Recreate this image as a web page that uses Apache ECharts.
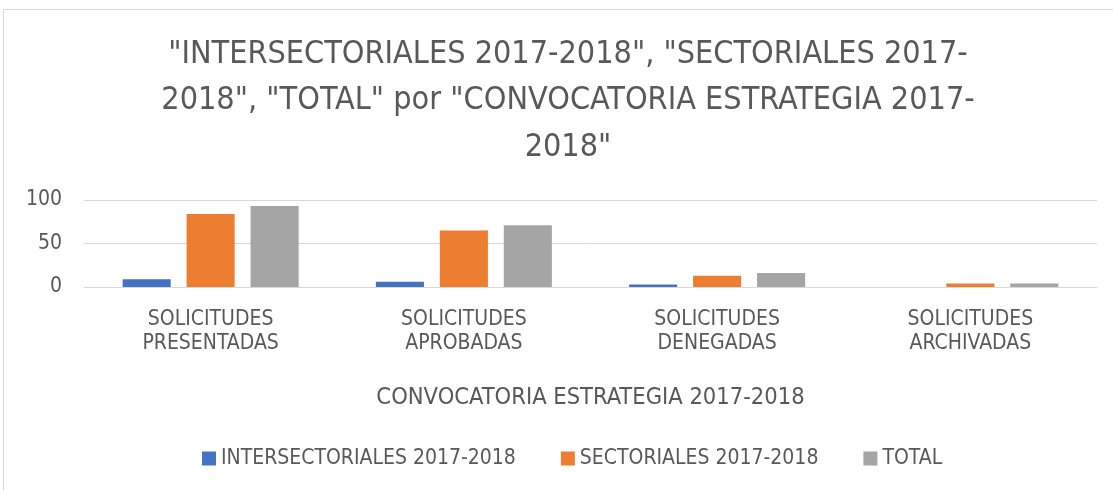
<!DOCTYPE html>
<html><head><meta charset="utf-8">
<script src="https://cdn.jsdelivr.net/npm/echarts@6/dist/echarts.min.js"></script>
<style>
html,body{margin:0;padding:0;background:#fff;}
#frame{position:absolute;left:3px;top:9px;width:1120px;height:490px;border:1px solid #d9d9d9;box-sizing:border-box;}
#c{position:absolute;left:0;top:0;width:1113px;height:490px;}
</style></head>
<body><div id="frame"></div><div id="c"></div>
<script>
const categories = ["SOLICITUDES\nPRESENTADAS","SOLICITUDES\nAPROBADAS","SOLICITUDES\nDENEGADAS","SOLICITUDES\nARCHIVADAS"];
const intersectoriales = [9, 6, 3, 0];
const sectoriales = [84, 65, 13, 4];
const total = [93, 71, 16, 4];
const seriesNames = ["INTERSECTORIALES 2017-2018","SECTORIALES 2017-2018","TOTAL"];
const titleText = '"INTERSECTORIALES 2017-2018", "SECTORIALES 2017-\n2018", "TOTAL" por "CONVOCATORIA ESTRATEGIA 2017-\n2018"';
const xAxisName = "CONVOCATORIA ESTRATEGIA 2017-2018";
const yTicks = [0, 50, 100];

const FONT = '"Liberation Sans Narrow", "DejaVu Sans Condensed", sans-serif';
const TXT = '#595959';
const chart = echarts.init(document.getElementById('c'), null, {renderer:'canvas'});
chart.setOption({
  backgroundColor: 'transparent',
  animation: false,
  textStyle: {fontFamily: FONT},
  title: {
    text: titleText, left: 563, top: 26, textAlign: 'center',
    textStyle: {fontFamily: FONT, fontSize: 32.1, fontWeight: 'normal', color: TXT, lineHeight: 46.5, align: 'center'}
  },
  legend: {
    bottom: 16, left: 197, itemWidth: 14, itemHeight: 14, itemGap: 45, icon: 'rect',
    textStyle: {fontFamily: FONT, fontSize: 21, color: TXT},
    data: seriesNames
  },
  grid: {left: 84, right: 16, top: 200, bottom: 203},
  xAxis: {
    type: 'category', data: categories,
    name: xAxisName, nameLocation: 'middle', nameGap: 99,
    nameTextStyle: {fontFamily: FONT, fontSize: 23.5, color: TXT},
    axisLine: {lineStyle: {color: '#d9d9d9', width: 1}},
    axisTick: {show: false},
    axisLabel: {fontFamily: FONT, fontSize: 21, color: TXT, lineHeight: 24, margin: 21}
  },
  yAxis: {
    type: 'value', min: yTicks[0], max: yTicks[yTicks.length-1], interval: 50,
    axisLine: {show: false}, axisTick: {show: false},
    splitLine: {lineStyle: {color: '#d9d9d9', width: 1}},
    axisLabel: {fontFamily: FONT, fontSize: 21, color: TXT, margin: 22}
  },
  series: [
    {name: seriesNames[0], type: 'bar', data: intersectoriales, itemStyle: {color: '#4472C4'}, barGap: '33%', barCategoryGap: '30.5%'},
    {name: seriesNames[1], type: 'bar', data: sectoriales, itemStyle: {color: '#ED7D31'}},
    {name: seriesNames[2], type: 'bar', data: total, itemStyle: {color: '#A5A5A5'}}
  ]
});
</script></body></html>
